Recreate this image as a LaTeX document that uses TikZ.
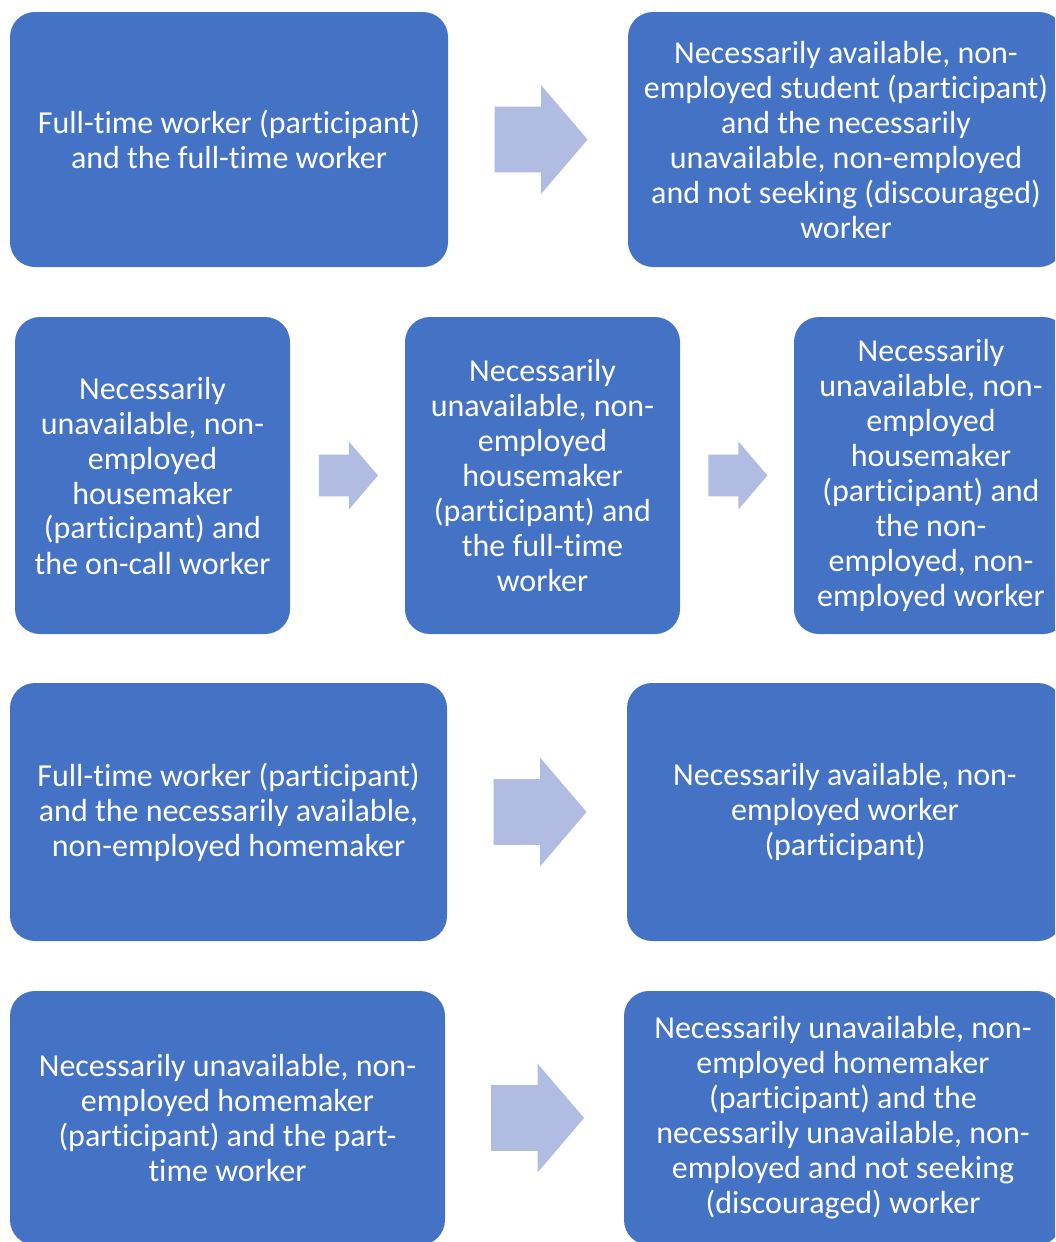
\documentclass[tikz,border=0pt]{standalone}
\usepackage{fontspec}
\setmainfont{Carlito}[Ligatures=NoCommon]
\usetikzlibrary{shapes.arrows, positioning, calc}
\definecolor{boxblue}{RGB}{68,114,196}
\definecolor{arrowblue}{RGB}{176,188,225}
\tikzset{
  box/.style={rounded corners=12.5pt, fill=boxblue, text=white, align=center, inner sep=0pt,
    font=\fontsize{16}{17.5}\selectfont},
  bigarrow/.style={single arrow, fill=arrowblue, minimum height=46.5pt, inner ysep=16.25pt,
    inner xsep=0pt, single arrow head extend=10.75pt, single arrow tip angle=99},
  smallarrow/.style={single arrow, fill=arrowblue, minimum height=29.5pt, inner ysep=10.25pt,
    inner xsep=0pt, single arrow head extend=6.5pt, single arrow tip angle=99}
}

\begin{document}
\begin{tikzpicture}[x=0.5pt, y=-0.5pt]
\clip (0,0) rectangle (1055,1242);
\node[box, minimum width=219pt, minimum height=127.5pt] (FT) at (229,139.5)
  {Full-time worker (participant)\\and the full-time worker};
\node[box, minimum width=218pt, minimum height=127.5pt] (ST) at (846,139.5)
  {Necessarily available, non-\\employed student (participant)\\and the necessarily\\unavailable, non-employed\\and not seeking (discouraged)\\worker};
\node[box, minimum width=137.5pt, minimum height=158.5pt] (HC) at (152.5,475.5)
  {Necessarily\\unavailable, non-\\employed\\housemaker\\(participant) and\\the on-call worker};
\node[box, minimum width=137.5pt, minimum height=158.5pt] (HF) at (542.5,475.5)
  {Necessarily\\unavailable, non-\\employed\\housemaker\\(participant) and\\the full-time\\worker};
\node[box, minimum width=137pt, minimum height=158.5pt] (HN) at (931,475.5)
  {Necessarily\\unavailable, non-\\employed\\housemaker\\(participant) and\\the non-\\employed, non-\\employed worker};
\node[box, minimum width=218.5pt, minimum height=129pt] (FH) at (228.5,812)
  {Full-time worker (participant)\\and the necessarily available,\\non-employed homemaker};
\node[box, minimum width=218pt, minimum height=129pt] (AW) at (845,812)
  {Necessarily available, non-\\employed worker\\(participant)};
\node[box, minimum width=217.5pt, minimum height=127pt] (HP) at (227.5,1118)
  {Necessarily unavailable, non-\\employed homemaker\\(participant) and the part-\\time worker};
\node[box, minimum width=219pt, minimum height=127pt] (HD) at (843,1118)
  {Necessarily unavailable, non-\\employed homemaker\\(participant) and the\\necessarily unavailable, non-\\employed and not seeking\\(discouraged) worker};
\node[bigarrow, xshift=-5.5pt] (a1) at ($(FT.east)!0.5!(ST.west)$) {};
\node[smallarrow, xshift=-4pt] (a2) at ($(HC.east)!0.5!(HF.west)$) {};
\node[smallarrow, xshift=-4pt] (a3) at ($(HF.east)!0.5!(HN.west)$) {};
\node[bigarrow, xshift=-5.5pt] (a4) at ($(FH.east)!0.5!(AW.west)$) {};
\node[bigarrow, xshift=-5.5pt] (a5) at ($(HP.east)!0.5!(HD.west)$) {};
\end{tikzpicture}
\end{document}
